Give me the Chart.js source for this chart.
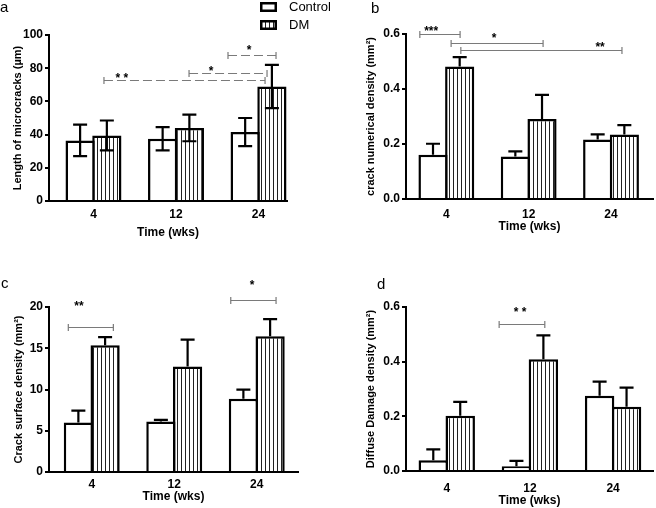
<!DOCTYPE html>
<html>
<head>
<meta charset="utf-8">
<script src="https://cdn.jsdelivr.net/npm/chart.js@4.4.1/dist/chart.umd.min.js"></script>
<style>
  body { margin: 0; background: #fff; width: 656px; height: 508px; position: relative; overflow: hidden; }
  canvas { position: absolute; }
  .tag { position: absolute; font: 15px 'Liberation Sans', Arial, sans-serif; line-height: 15px; color: #000; }
</style>
</head>
<body>
<canvas id="chartB" width="328" height="250" style="left:328px;top:0"></canvas>
<canvas id="chartA" width="345" height="250" style="left:0;top:0"></canvas>
<canvas id="chartC" width="328" height="258" style="left:0;top:250px"></canvas>
<canvas id="chartD" width="328" height="258" style="left:328px;top:250px"></canvas>
<div class="tag" style="left:0;top:-1px">a</div>
<div class="tag" style="left:371px;top:0">b</div>
<div class="tag" style="left:1px;top:275px">c</div>
<div class="tag" style="left:377px;top:276px">d</div>

<script>
// data (mean and error)
const weeks = ['4', '12', '24'];
const groups = ['Control', 'DM'];

// a: length of microcracks (µm)
const lengthControl = [36.5, 37.5, 41.5];
const lengthControlErr = [9.5, 7, 8.5];
const lengthDM = [39.5, 44, 69];
const lengthDMErr = [9, 8, 13];

// b: crack numerical density
const numDensControl = [0.161, 0.155, 0.216];
const numDensControlErr = [0.040, 0.018, 0.019];
const numDensDM = [0.482, 0.291, 0.235];
const numDensDMErr = [0.034, 0.088, 0.034];

// c: crack surface density
const surfDensControl = [6.0, 6.13, 8.88];
const surfDensControlErr = [1.43, 0.2, 1.1];
const surfDensDM = [15.35, 12.8, 16.44];
const surfDensDMErr = [1.0, 3.24, 2.1];

// d: diffuse damage density
const diffuseControl = [0.039, 0.017, 0.275];
const diffuseControlErr = [0.040, 0.020, 0.052];
const diffuseDM = [0.202, 0.409, 0.235];
const diffuseDMErr = [0.051, 0.087, 0.070];

// significance brackets (x in week-index units, level in y units)
const sigA = [
    { from: 0.127, to: 2.079, level: 72.9, text: '* *', textAt: 0.345, textLevel: 75.3 },
    { from: 1.158, to: 2.103, level: 76.9, text: '*', textAt: 1.424, textLevel: 79.3 },
    { from: 1.63, to: 2.212, level: 88, text: '*', textAt: 1.885, textLevel: 92 }
];
const sigB = [
    { from: -0.322, to: 0.167, level: 0.6, text: '***', textAt: -0.184, textLevel: 0.619 },
    { from: 0.058, to: 1.175, level: 0.568, text: '*', textAt: 0.58, textLevel: 0.592 },
    { from: 0.176, to: 2.133, level: 0.543, text: '**', textAt: 1.867, textLevel: 0.558 }
];
const sigC = [
    { from: -0.284, to: 0.262, level: 17.6, text: '**', textAt: -0.154, textLevel: 20.3 },
    { from: 1.685, to: 2.234, level: 20.9, text: '*', textAt: 1.944, textLevel: 22.9 }
];
const sigD = [
    { from: 0.63, to: 1.179, level: 0.539, text: '* *', textAt: 0.882, textLevel: 0.590 }
];

const FONT = "'Liberation Sans', Arial, Helvetica, sans-serif";
Chart.defaults.font.family = FONT;
Chart.defaults.color = '#000';
Chart.defaults.animation = false;

function hatch(ctx) {
    const c = document.createElement('canvas');
    c.width = 4; c.height = 4;
    const g = c.getContext('2d');
    g.fillStyle = '#fff';
    g.fillRect(0, 0, 4, 4);
    g.fillStyle = '#222';
    g.fillRect(1, 0, 1, 4);
    return ctx.createPattern(c, 'repeat');
}

// error bars on top of each bar
const errorBars = {
    id: 'errorBars',
    afterDatasetsDraw(chart, args, opts) {
        const ctx = chart.ctx, y = chart.scales.y;
        chart.data.datasets.forEach((ds, di) => {
            chart.getDatasetMeta(di).data.forEach((bar, i) => {
                const v = ds.data[i].y, e = ds.errors[i];
                const top = y.getPixelForValue(v + e);
                const bot = opts.both ? y.getPixelForValue(v - e) : bar.y;
                const h = opts.cap / 2;
                ctx.save();
                ctx.strokeStyle = '#000';
                ctx.lineWidth = 2.2;
                ctx.beginPath();
                ctx.moveTo(bar.x, top); ctx.lineTo(bar.x, bot);
                ctx.moveTo(bar.x - h, top); ctx.lineTo(bar.x + h, top);
                if (opts.both) { ctx.moveTo(bar.x - h, bot); ctx.lineTo(bar.x + h, bot); }
                ctx.stroke();
                ctx.restore();
            });
        });
    }
};

// significance brackets
const brackets = {
    id: 'brackets',
    afterDraw(chart, args, opts) {
        const { ctx, scales: { x, y } } = chart;
        (opts.items || []).forEach(b => {
            const x0 = x.getPixelForValue(b.from), x1 = x.getPixelForValue(b.to);
            const yy = Math.round(y.getPixelForValue(b.level)) + 0.5;
            ctx.save();
            ctx.strokeStyle = '#7a7a7a';
            ctx.lineWidth = 1.2;
            ctx.setLineDash(opts.dash || []);
            ctx.beginPath(); ctx.moveTo(x0, yy); ctx.lineTo(x1, yy); ctx.stroke();
            ctx.setLineDash([]);
            ctx.beginPath();
            ctx.moveTo(x0, yy - 3.5); ctx.lineTo(x0, yy + 3.5);
            ctx.moveTo(x1, yy - 3.5); ctx.lineTo(x1, yy + 3.5);
            ctx.stroke();
            ctx.fillStyle = '#000';
            ctx.font = 'bold 12px ' + FONT;
            ctx.textAlign = 'center';
            ctx.textBaseline = 'middle';
            ctx.fillText(b.text, x.getPixelForValue(b.textAt), y.getPixelForValue(b.textLevel) + 2.5);
            ctx.restore();
        });
    }
};

// legend with outlined boxes (panel a only)
const boxLegend = {
    id: 'boxLegend',
    afterDraw(chart, args, opts) {
        if (!opts.show) return;
        const ctx = chart.ctx;
        chart.data.datasets.forEach((ds, i) => {
            const top = opts.y + i * opts.step;
            ctx.save();
            ctx.fillStyle = ds.backgroundColor;
            ctx.fillRect(opts.x, top, opts.w, opts.h);
            ctx.strokeStyle = '#000';
            ctx.lineWidth = 2.5;
            ctx.strokeRect(opts.x + 1.25, top + 1.25, opts.w - 2.5, opts.h - 2.5);
            ctx.fillStyle = '#000';
            ctx.font = '13px ' + FONT;
            ctx.textBaseline = 'middle';
            ctx.fillText(ds.label, opts.x + opts.w + 12, top + opts.h / 2 + 0.5);
            ctx.restore();
        });
    }
};

function makeChart(id, p) {
    const ctx = document.getElementById(id).getContext('2d');
    const fills = ['#fff', hatch(ctx)];
    const series = [[p.control, p.controlErr], [p.dm, p.dmErr]];
    return new Chart(ctx, {
        type: 'bar',
        data: {
            datasets: series.map((s, k) => ({
                label: groups[k],
                data: weeks.map((w, i) => ({ x: i, y: s[0][i] })),
                errors: s[1],
                backgroundColor: fills[k],
                borderColor: '#000',
                borderWidth: 2.5,
                barPercentage: 1.093,
                categoryPercentage: 0.648
            }))
        },
        options: {
            responsive: false,
            layout: { padding: { top: p.top, right: p.right, left: 0, bottom: 0 } },
            plugins: {
                legend: { display: false },
                tooltip: { enabled: false },
                errorBars: { both: p.both, cap: 14 },
                brackets: { items: p.sig, dash: p.dash },
                boxLegend: { show: !!p.legend, x: 260, y: 2, step: 18, w: 17, h: 10 }
            },
            scales: {
                x: {
                    type: 'linear',
                    offset: false,
                    min: p.xmin, max: p.xmax,
                    afterBuildTicks: s => { s.ticks = weeks.map((w, i) => ({ value: i })); },
                    afterFit: s => { s.height = p.xh; },
                    ticks: {
                        callback: v => weeks[v],
                        autoSkip: false, maxRotation: 0,
                        padding: p.tickPad,
                        font: { size: 12, weight: 'bold' }
                    },
                    grid: { drawOnChartArea: false, drawTicks: false, offset: false },
                    border: { display: true, color: '#000', width: 2 },
                    title: {
                        display: true, text: 'Time (wks)',
                        font: { size: 12, weight: 'bold' },
                        padding: { top: 0, bottom: p.xtPad }
                    }
                },
                y: {
                    type: 'linear',
                    min: 0, max: p.ymax,
                    afterFit: s => { s.width = p.yw; },
                    ticks: {
                        stepSize: p.step,
                        padding: 2,
                        callback: p.fmt,
                        font: { size: 12, weight: 'bold' }
                    },
                    grid: { drawOnChartArea: false, drawTicks: true, tickLength: 4, color: '#000', lineWidth: 2 },
                    border: { display: true, color: '#000', width: 2 },
                    title: {
                        display: true, text: p.ytitle,
                        font: { size: 11, weight: 'bold' },
                        padding: { top: p.ytPad, bottom: 0 }
                    }
                }
            }
        },
        plugins: [errorBars, brackets, boxLegend]
    });
}

makeChart('chartA', {
    control: lengthControl, controlErr: lengthControlErr, dm: lengthDM, dmErr: lengthDMErr,
    both: true, sig: sigA, dash: [9, 4], legend: true,
    ymax: 100, step: 20, fmt: v => v,
    ytitle: 'Length of microcracks (\u00b5m)',
    top: 35, right: 58, yw: 49, xh: 49, xmin: -0.539, xmax: 2.345,
    tickPad: 6, xtPad: 10, ytPad: 11
});

makeChart('chartB', {
    control: numDensControl, controlErr: numDensControlErr, dm: numDensDM, dmErr: numDensDMErr,
    both: false, sig: sigB,
    ymax: 0.6, step: 0.2, fmt: v => v.toFixed(1),
    ytitle: 'crack numerical density (mm\u00b2)',
    top: 34, right: 3, yw: 78, xh: 51, xmin: -0.49, xmax: 2.51,
    tickPad: 8, xtPad: 16, ytPad: 36
});

makeChart('chartC', {
    control: surfDensControl, controlErr: surfDensControlErr, dm: surfDensDM, dmErr: surfDensDMErr,
    both: false, sig: sigC,
    ymax: 20, step: 5, fmt: v => v,
    ytitle: 'Crack surface density (mm\u00b2)',
    top: 57, right: 30, yw: 49, xh: 36, xmin: -0.518, xmax: 2.5,
    tickPad: 5, xtPad: 4, ytPad: 12
});

makeChart('chartD', {
    control: diffuseControl, controlErr: diffuseControlErr, dm: diffuseDM, dmErr: diffuseDMErr,
    both: false, sig: sigD,
    ymax: 0.6, step: 0.2, fmt: v => v.toFixed(1),
    ytitle: 'Diffuse Damage density (mm\u00b2)',
    top: 57, right: 3, yw: 78, xh: 37, xmin: -0.49, xmax: 2.48,
    tickPad: 10, xtPad: 0, ytPad: 36
});
</script>
</body>
</html>
